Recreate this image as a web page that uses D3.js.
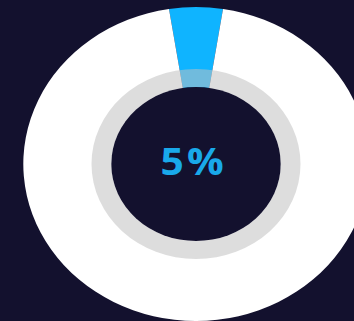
<!DOCTYPE html>
<html>
<head>
<meta charset="utf-8">
<script src="https://cdn.jsdelivr.net/npm/d3@7"></script>
<style>
  html, body { margin: 0; padding: 0; background: #13112e; }
  svg { display: block; }
</style>
</head>
<body>
<div id="chart"></div>
<script>
// chart data
const labels = ["done", "rest"];
const values = [5, 95];
const colors = ["#0fb4ff", "#ffffff"];
const centerLabel = "5%";

const width = 354, height = 321;
const cx = 196, cy = 164;
const outerR = 157, ringOuter = 95, ringInner = 77;

const svg = d3.select("#chart")
  .append("svg")
    .attr("width", width)
    .attr("height", height);

svg.append("rect")
  .attr("width", width)
  .attr("height", height)
  .attr("fill", "#13112e");

// the picture is a bit wider than tall, so stretch x
const g = svg.append("g")
  .attr("transform", `translate(${cx}, ${cy}) scale(1.1, 1)`);

// slice centred on the top
const offset = -Math.PI * values[0] / 100;
const pie = d3.pie()
  .sort(null)
  .startAngle(offset)
  .endAngle(offset + 2 * Math.PI);

const arc = d3.arc()
  .innerRadius(0)
  .outerRadius(outerR);

g.selectAll(".slice")
  .data(pie(values))
  .enter().append("path")
  .attr("class", "slice")
  .attr("fill", (d, i) => colors[i])
  .attr("d", arc);

// gray ring on top
g.append("path")
  .attr("d", d3.arc()({ innerRadius: ringInner, outerRadius: ringOuter, startAngle: 0, endAngle: 2 * Math.PI }))
  .attr("fill", "#c1c1c1")
  .attr("opacity", 0.55);

// dark hole
g.append("circle")
  .attr("r", ringInner)
  .attr("fill", "#13112e");

g.append("text")
  .attr("x", -2)
  .attr("y", -2)
  .attr("dy", "0.35em")
  .style("text-anchor", "middle")
  .style("font-family", "'Open Sans', sans-serif")
  .style("font-weight", 700)
  .style("font-size", "37px")
  .style("letter-spacing", "3px")
  .attr("fill", "#19a9ea")
  .text(centerLabel);
</script>
</body>
</html>
